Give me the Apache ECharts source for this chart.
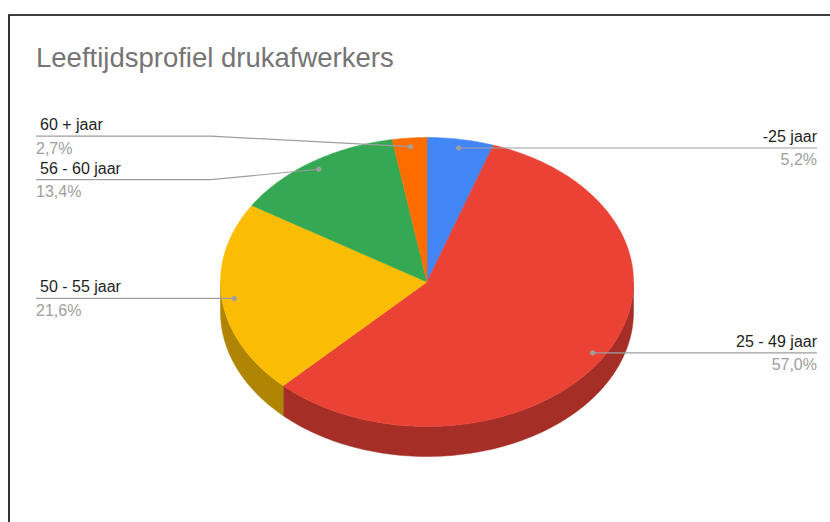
<!DOCTYPE html>
<html>
<head>
<meta charset="utf-8">
<script src="https://cdn.jsdelivr.net/npm/echarts@6/dist/echarts.min.js"></script>
<style>
  html, body { margin: 0; padding: 0; background: #fff; }
  #chart { width: 830px; height: 522px; }
</style>
</head>
<body>
<div id="chart"></div>
<script>
const categories = ['-25 jaar', '25 - 49 jaar', '50 - 55 jaar', '56 - 60 jaar', '60 + jaar'];
const shares = [5.2, 57.0, 21.6, 13.4, 2.7];
const topColors = ['#4285f4', '#ea4335', '#fbbc04', '#34a853', '#ff6d01'];
const sideColors = ['#2e5dab', '#a52f26', '#b08503', '#24763a', '#b34c01'];

// pie geometry (ellipse of the 3d top face)
const cx = 427, cy = 282, rx = 206.5, ry = 144.5, depth = 30;
const font = 'Arial, "Liberation Sans", sans-serif';

function pt(theta, f, dy) {
  return [cx + f * rx * Math.sin(theta), cy - f * ry * Math.cos(theta) + (dy || 0)];
}
function arc(a0, a1, f, dy) {
  const n = Math.max(2, Math.ceil(Math.abs(a1 - a0) / 0.02));
  const out = [];
  for (let i = 0; i <= n; i++) out.push(pt(a0 + (a1 - a0) * i / n, f, dy));
  return out;
}

// slice angles, clockwise from 12 o'clock
const total = shares.reduce((a, b) => a + b, 0);
let acc = 0;
const slices = shares.map((v) => {
  const a0 = acc / total * Math.PI * 2;
  acc += v;
  const a1 = acc / total * Math.PI * 2;
  const mid = (a0 + a1) / 2;
  const anchor = pt(mid, 0.94);
  return { a0, a1, anchor, left: Math.sin(mid) < 0, ly: anchor[1] };
});

// spread labels on each side so they do not overlap
const gap = 43.5;
[true, false].forEach((side) => {
  const group = slices.filter(s => s.left === side).sort((a, b) => a.ly - b.ly);
  for (let k = 0; k < 20; k++) {
    for (let i = 1; i < group.length; i++) {
      const d = group[i].ly - group[i - 1].ly;
      if (d < gap) {
        group[i - 1].ly -= (gap - d) / 2;
        group[i].ly += (gap - d) / 2;
      }
    }
  }
});

function renderItem(params, api) {
  const i = params.dataIndex;
  const s = slices[i];
  const children = [];

  // visible side wall (front half of the disc)
  const f0 = Math.max(s.a0, Math.PI / 2), f1 = Math.min(s.a1, Math.PI * 1.5);
  if (f1 > f0) {
    const pts = arc(f0, f1, 1, 0).concat(arc(f1, f0, 1, depth));
    children.push({
      type: 'polygon', z2: 1,
      shape: { points: pts },
      style: { fill: sideColors[i], stroke: sideColors[i], lineWidth: 0.5 }
    });
  }

  // top face
  children.push({
    type: 'polygon', z2: 2,
    shape: { points: [[cx, cy]].concat(arc(s.a0, s.a1, 1, 0)) },
    style: { fill: topColors[i], stroke: topColors[i], lineWidth: 0.5 }
  });

  // leader line + labels
  const [ax, ay] = s.anchor;
  const ly = s.ly;
  let linePts;
  if (s.left) {
    linePts = Math.abs(ly - ay) > 0.5 ? [[36, ly], [211, ly], [ax, ay]] : [[36, ay], [ax, ay]];
  } else {
    linePts = Math.abs(ly - ay) > 0.5 ? [[ax, ay], [643, ly], [817, ly]] : [[ax, ay], [817, ay]];
  }
  children.push({
    type: 'polyline', z2: 3,
    shape: { points: linePts },
    style: { stroke: '#9e9e9e', lineWidth: 1.2, fill: null }
  });
  children.push({
    type: 'circle', z2: 4,
    shape: { cx: ax, cy: ay, r: 2.6 },
    style: { fill: '#9e9e9e' }
  });
  const pct = api.value(0).toFixed(1).replace('.', ',') + '%';
  children.push({
    type: 'text', z2: 4,
    style: {
      text: categories[i], x: s.left ? 40 : 817, y: ly - 11.5,
      align: s.left ? 'left' : 'right', verticalAlign: 'middle',
      fill: '#1f1f1f', fontSize: 16, fontFamily: font
    }
  });
  children.push({
    type: 'text', z2: 4,
    style: {
      text: pct, x: s.left ? 36 : 817, y: ly + 12,
      align: s.left ? 'left' : 'right', verticalAlign: 'middle',
      fill: '#9e9e9e', fontSize: 16, fontFamily: font
    }
  });

  return { type: 'group', children };
}

const chart = echarts.init(document.getElementById('chart'), null, { renderer: 'svg' });
chart.setOption({
  backgroundColor: '#fff',
  animation: false,
  title: {
    text: 'Leeftijdsprofiel drukafwerkers',
    left: 36,
    top: 43,
    padding: 0,
    textStyle: { color: '#757575', fontSize: 27.5, fontWeight: 'normal', fontFamily: font }
  },
  graphic: [{
    type: 'rect',
    shape: { x: 9, y: 15, width: 900, height: 600 },
    style: { fill: null, stroke: '#000', lineWidth: 1.6 },
    silent: true
  }],
  series: [{
    type: 'custom',
    coordinateSystem: 'none',
    renderItem: renderItem,
    data: shares.map((v, i) => ({ name: categories[i], value: [v] }))
  }]
});
</script>
</body>
</html>
